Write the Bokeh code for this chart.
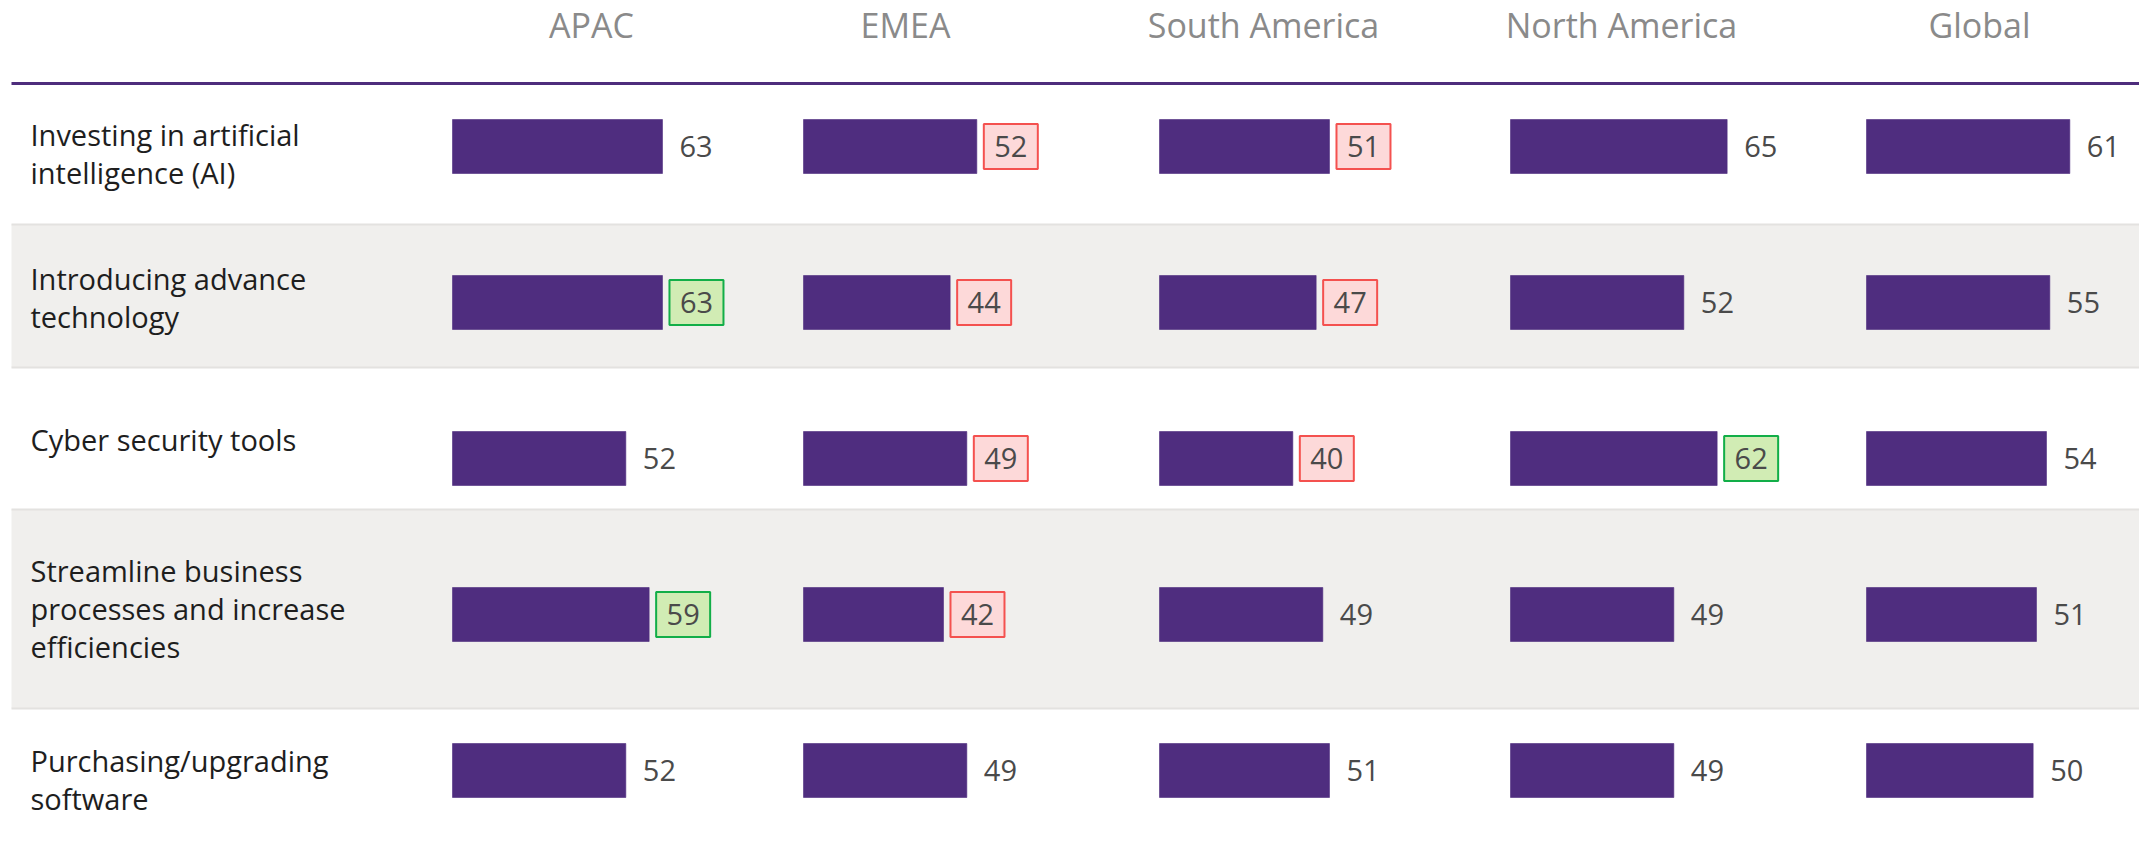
from bokeh.plotting import figure
from bokeh.models import Range1d, ColumnDataSource
from bokeh.embed import file_html
from bokeh.resources import INLINE
from bokeh.core.properties import value

# ---------------- data ----------------
regions = ["APAC", "EMEA", "South America", "North America", "Global"]
categories = [
    "Investing in artificial\nintelligence (AI)",
    "Introducing advance\ntechnology",
    "Cyber security tools",
    "Streamline business\nprocesses and increase\nefficiencies",
    "Purchasing/upgrading\nsoftware",
]
apac = [63, 63, 52, 59, 52]
emea = [52, 44, 49, 42, 49]
south_america = [51, 47, 40, 49, 51]
north_america = [65, 52, 62, 49, 49]
global_vals = [61, 55, 54, 51, 50]
# highlight flags: "low" = red box, "high" = green box, "" = plain label
apac_flag = ["", "high", "", "high", ""]
emea_flag = ["low", "low", "low", "low", ""]
south_america_flag = ["low", "low", "low", "", ""]
north_america_flag = ["", "", "high", "", ""]
global_flag = ["", "", "", "", ""]

series = [apac, emea, south_america, north_america, global_vals]
flags = [apac_flag, emea_flag, south_america_flag, north_america_flag, global_flag]

# ---------------- layout (picture pixels) ----------------
W, H = 2139, 830
PX = 3.333            # pixels per value unit
ORIGIN_X = 452        # x of first column's zero
ROW0_Y = 146          # y of first bar centre
ROW_PX = 156          # bar pitch
BAR_H = 54
COL_PX = [452, 803, 1159, 1510, 1866]
HEAD_PX = [591, 905, 1263, 1621, 1979]
BAND_EDGES = [83, 224, 367, 509, 708, 900]
BAND_FILL = ["#ffffff", "#f0efed", "#ffffff", "#f0efed", "#ffffff"]
LABEL_CENTRES = [153, 297, 439, 608, 779]

def ux(px):
    return (px - ORIGIN_X) / PX

def uy(py):
    return (py - ROW0_Y) / ROW_PX

BAR_COLOR = "#4f2d7f"
FONT = "Open Sans"

p = figure(width=W, height=H, output_backend="svg", toolbar_location=None,
           x_range=Range1d(ux(0), ux(W)), y_range=Range1d(uy(H), uy(0)),
           x_axis_type=None, y_axis_type=None, min_border=0,
           outline_line_color=None, background_fill_color="white",
           border_fill_color="white")
p.xgrid.visible = False
p.ygrid.visible = False

# row bands
left_edge = ux(11)
right_edge = ux(2300)
p.quad(left=[left_edge] * 5, right=[right_edge] * 5,
       top=[uy(b) for b in BAND_EDGES[:-1]], bottom=[uy(b) for b in BAND_EDGES[1:]],
       fill_color=BAND_FILL, line_color=None)
for b in BAND_EDGES[1:-1]:
    p.segment(x0=[left_edge], x1=[right_edge], y0=[uy(b)], y1=[uy(b)],
              line_color="#e3e2e0", line_width=2)

# header rule
p.segment(x0=[left_edge], x1=[right_edge], y0=[uy(BAND_EDGES[0])], y1=[uy(BAND_EDGES[0])],
          line_color="#4e2d7c", line_width=3)

# column headers
p.text(x=[ux(h) for h in HEAD_PX], y=[uy(24)] * 5, text=regions,
       text_font=value(FONT), text_font_size="34px", text_color="#8a8a8a",
       text_align="center", text_baseline="middle")

# category labels
p.text(x=[ux(30)] * 5, y=[uy(c) for c in LABEL_CENTRES],
       text=categories, text_font=value(FONT), text_font_size="29px",
       text_color="#1e1e1e", text_align="left", text_baseline="middle",
       text_line_height=0.97)

# bars and value labels
rows = list(range(len(categories)))
for j, (vals, fl) in enumerate(zip(series, flags)):
    off = ux(COL_PX[j])
    src = ColumnDataSource(dict(y=rows, left=[off] * 5, right=[off + v for v in vals]))
    p.hbar(y="y", left="left", right="right", height=BAR_H / ROW_PX, source=src,
           fill_color=BAR_COLOR, line_color=BAR_COLOR, line_alpha=0.6)

    plain_x, plain_y, plain_t = [], [], []
    box_x, box_y, box_t, box_fill, box_line = [], [], [], [], []
    for i, (v, f) in enumerate(zip(vals, fl)):
        end = off + v
        if f:
            box_x.append(end + (7 + 27) / PX)
            box_y.append(i)
            box_t.append(str(v))
            box_fill.append("#fdd9d9" if f == "low" else "#d1ecb4")
            box_line.append("#f4514f" if f == "low" else "#12ae48")
        else:
            plain_x.append(end + 17 / PX)
            plain_y.append(i)
            plain_t.append(str(v))
    p.text(x=plain_x, y=plain_y, text=plain_t, text_font=value(FONT),
           text_font_size="29px", text_color="#4a4a4a", text_align="left",
           text_baseline="middle")
    if box_x:
        p.rect(x=box_x, y=box_y, width=54 / PX, height=45 / ROW_PX,
               fill_color=box_fill, line_color=box_line, line_width=2)
        p.text(x=box_x, y=box_y, text=box_t, text_font=value(FONT),
               text_font_size="29px", text_color="#4a4a4a", text_align="center",
               text_baseline="middle")

open("out.html", "w").write(file_html(p, INLINE))
